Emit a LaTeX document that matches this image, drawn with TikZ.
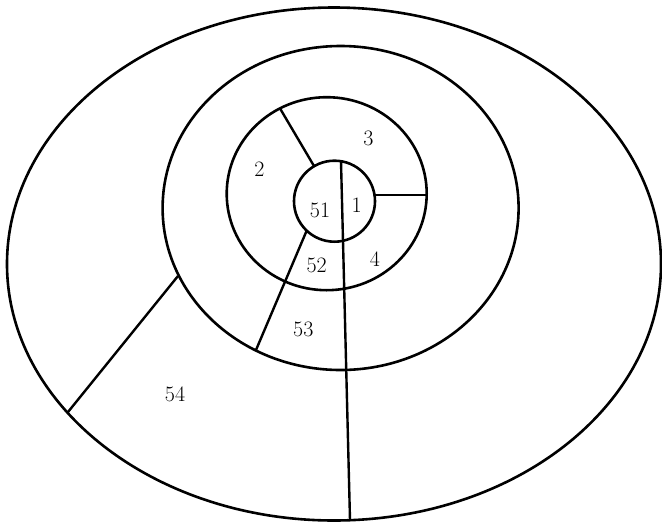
\documentclass[tikz,border=0pt]{standalone}
\begin{document}
\begin{tikzpicture}[x=1pt,y=-1pt,
  ring/.style={line width=2.6pt},
  cut/.style={line width=2.4pt},
  lbl/.style={font=\fontsize{22}{22}\selectfont, inner sep=0pt}]
\useasboundingbox (0,0) rectangle (662,523);
% centers
\coordinate (cO) at (334,264);
\coordinate (cB) at (340.6,208);
\coordinate (cT) at (326.7,193.7);
\coordinate (cI) at (334.5,201.2);
\draw[ring] (cO) ellipse [x radius=327, y radius=256.5];
\draw[ring] (cB) ellipse [x radius=178, y radius=162];
\draw[ring] (cT) ellipse [x radius=100, y radius=96.5];
\draw[ring] (cI) ellipse [x radius=40.5, y radius=40.5];
% cut points
\coordinate (vtop) at (341,161.2);
\coordinate (vbot) at (350,520);
\coordinate (r1) at (374.5,195);
\coordinate (r2) at (426.7,195);
\coordinate (tl1) at (280,108.4);
\coordinate (tl2) at (314,166);
\coordinate (ll1) at (306.7,230.6);
\coordinate (ll2) at (256,350);
\coordinate (ol1) at (178,276);
\coordinate (ol2) at (68,412);
\draw[cut] (vtop) -- (vbot);
\draw[cut] (r1) -- (r2);
\draw[cut] (tl1) -- (tl2);
\draw[cut] (ll1) -- (ll2);
\draw[cut] (ol1) -- (ol2);
% labels
\node[lbl] (l3) at (368.3,138.3) {3};
\node[lbl] (l2) at (259.3,169) {2};
\node[lbl] (l51) at (320,210.7) {51};
\node[lbl] (l1) at (356.7,205) {1};
\node[lbl] (l52) at (316.7,265.7) {52};
\node[lbl] (l4) at (375,259.3) {4};
\node[lbl] (l53) at (303.3,329.3) {53};
\node[lbl] (l54) at (175,394) {54};
\end{tikzpicture}
\end{document}
